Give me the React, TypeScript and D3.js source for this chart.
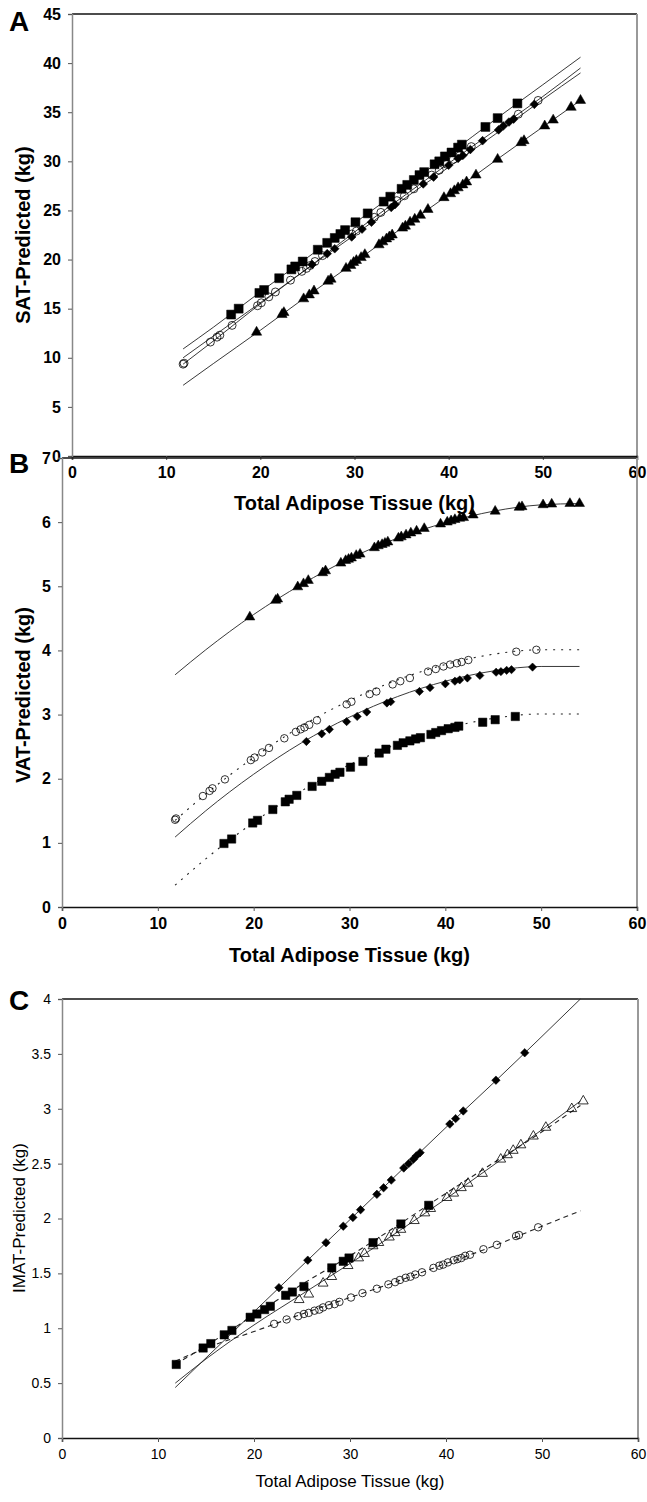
import React, { useEffect, useRef } from "react";
import * as d3 from "d3";

// total adipose tissue (kg) per group, shared by panels A and B
const sqX = [16.9, 17.7, 19.9, 20.4, 22.0, 23.3, 23.7, 24.5, 26.1, 27.1, 27.9, 28.5, 29.0, 30.1, 31.4, 33.1, 33.8, 35.0, 35.6, 36.3, 36.9, 37.4, 38.5, 39.0, 39.6, 40.3, 41.0, 41.4, 43.9, 45.2, 47.3];
const ciX = [11.8, 11.9, 14.7, 15.4, 15.7, 17.0, 19.7, 20.1, 20.9, 21.6, 23.2, 24.4, 24.9, 25.3, 25.8, 26.6, 29.7, 30.2, 32.1, 32.8, 34.5, 35.3, 36.3, 38.2, 39.0, 39.8, 40.5, 41.2, 41.7, 42.4, 47.4, 49.5];
const dmX = [25.5, 27.1, 27.9, 29.7, 30.8, 31.8, 33.9, 34.3, 37.3, 38.4, 40.0, 41.0, 41.5, 42.3, 43.6, 45.3, 45.8, 46.4, 46.9, 49.1];
const trX = [19.6, 22.3, 22.5, 24.6, 25.2, 25.7, 27.2, 27.5, 29.1, 29.6, 29.9, 30.2, 30.7, 31.1, 32.6, 33.0, 33.4, 33.7, 34.0, 35.1, 35.4, 35.9, 36.4, 37.0, 37.8, 39.5, 40.2, 40.6, 41.0, 41.5, 41.9, 42.9, 45.2, 47.7, 48.0, 50.2, 51.1, 53.0, 54.0];

// A: SAT predicted (kg)
const aSqY = [14.4, 15.0, 16.6, 16.9, 18.1, 19.0, 19.3, 19.8, 21.0, 21.7, 22.2, 22.6, 23.0, 23.8, 24.7, 25.9, 26.4, 27.2, 27.6, 28.1, 28.6, 28.9, 29.7, 30.0, 30.5, 30.9, 31.4, 31.7, 33.5, 34.4, 35.9];
const aCiY = [9.35, 9.45, 11.6, 12.1, 12.3, 13.3, 15.3, 15.6, 16.2, 16.7, 17.9, 18.8, 19.1, 19.4, 19.8, 20.4, 22.6, 22.9, 24.3, 24.8, 26.0, 26.5, 27.2, 28.6, 29.1, 29.7, 30.2, 30.6, 31.0, 31.5, 34.8, 36.2];
const aDmY = [19.5, 20.6, 21.1, 22.3, 23.1, 23.8, 25.3, 25.6, 27.7, 28.4, 29.6, 30.3, 30.6, 31.2, 32.1, 33.2, 33.6, 34.0, 34.3, 35.8];
const aTrY = [12.6, 14.4, 14.6, 16.0, 16.4, 16.8, 17.8, 18.0, 19.1, 19.4, 19.7, 19.9, 20.2, 20.5, 21.5, 21.8, 22.1, 22.3, 22.5, 23.2, 23.4, 23.8, 24.1, 24.5, 25.1, 26.3, 26.7, 27.0, 27.3, 27.6, 27.9, 28.6, 30.2, 31.9, 32.1, 33.6, 34.2, 35.5, 36.2];

// B: VAT predicted (kg)
const bSqY = [0.99, 1.06, 1.31, 1.35, 1.52, 1.64, 1.68, 1.74, 1.88, 1.96, 2.02, 2.07, 2.10, 2.18, 2.27, 2.40, 2.46, 2.52, 2.56, 2.59, 2.62, 2.64, 2.69, 2.72, 2.75, 2.78, 2.80, 2.82, 2.88, 2.92, 2.97];
const bCiY = [1.36, 1.38, 1.73, 1.81, 1.85, 1.99, 2.29, 2.33, 2.41, 2.48, 2.63, 2.73, 2.77, 2.80, 2.84, 2.91, 3.16, 3.20, 3.32, 3.36, 3.47, 3.52, 3.57, 3.67, 3.71, 3.75, 3.78, 3.80, 3.82, 3.85, 3.98, 4.01];
const bDmY = [2.58, 2.70, 2.77, 2.89, 2.97, 3.04, 3.18, 3.20, 3.36, 3.42, 3.48, 3.52, 3.54, 3.57, 3.61, 3.66, 3.67, 3.69, 3.70, 3.74];
const bTrY = [4.52, 4.78, 4.80, 4.99, 5.04, 5.09, 5.21, 5.24, 5.36, 5.40, 5.42, 5.44, 5.48, 5.50, 5.60, 5.63, 5.65, 5.67, 5.69, 5.75, 5.77, 5.80, 5.83, 5.86, 5.90, 5.97, 6.00, 6.02, 6.04, 6.06, 6.07, 6.11, 6.17, 6.23, 6.24, 6.27, 6.28, 6.29, 6.29];

// C: IMAT predicted (kg), own groups
const cDmX = [22.6, 25.6, 27.5, 29.3, 30.3, 31.1, 32.8, 33.5, 34.3, 35.6, 36.1, 36.6, 36.9, 37.3, 40.4, 41.0, 41.8, 45.2, 48.2];
const cDmY = [1.37, 1.62, 1.78, 1.93, 2.01, 2.08, 2.22, 2.28, 2.35, 2.46, 2.50, 2.54, 2.57, 2.60, 2.86, 2.91, 2.98, 3.26, 3.51];
const cSqX = [11.9, 14.7, 15.5, 16.9, 17.7, 19.6, 20.3, 21.1, 21.7, 23.3, 24.0, 25.2, 28.1, 29.3, 29.9, 32.4, 35.3, 38.2];
const cSqY = [0.67, 0.82, 0.86, 0.94, 0.98, 1.10, 1.13, 1.17, 1.20, 1.30, 1.33, 1.38, 1.55, 1.61, 1.64, 1.78, 1.95, 2.12];
const cTrX = [24.7, 25.7, 27.2, 28.1, 29.8, 30.9, 31.5, 32.4, 33.0, 34.1, 34.7, 35.3, 36.7, 37.8, 38.4, 40.1, 40.8, 41.6, 42.3, 43.8, 45.7, 46.4, 47.0, 47.8, 49.1, 50.4, 53.1, 54.3];
const cTrY = [1.26, 1.31, 1.41, 1.47, 1.57, 1.64, 1.68, 1.75, 1.78, 1.83, 1.87, 1.90, 1.98, 2.05, 2.09, 2.19, 2.23, 2.28, 2.32, 2.41, 2.54, 2.58, 2.62, 2.67, 2.75, 2.83, 3.00, 3.07];
const cCiX = [22.1, 23.4, 24.6, 25.2, 25.7, 26.3, 26.8, 27.2, 27.8, 28.4, 28.9, 30.1, 31.3, 32.8, 34.0, 34.7, 35.2, 35.8, 36.3, 36.8, 37.5, 38.7, 39.3, 39.7, 40.2, 40.8, 41.2, 41.6, 42.0, 42.5, 43.9, 45.3, 47.3, 47.6, 49.6];
const cCiY = [1.04, 1.08, 1.11, 1.13, 1.14, 1.16, 1.17, 1.19, 1.21, 1.22, 1.24, 1.28, 1.32, 1.36, 1.40, 1.42, 1.44, 1.46, 1.47, 1.49, 1.51, 1.55, 1.57, 1.58, 1.60, 1.62, 1.63, 1.64, 1.66, 1.67, 1.72, 1.76, 1.84, 1.85, 1.92];

// fitted curves, read at these x
const fitX = [11.8, 15, 20, 25, 30, 35, 40, 45, 50, 54];
const aSqFit = [10.9, 13.1, 16.7, 20.2, 23.7, 27.2, 30.7, 34.3, 37.8, 40.6];
const aCiFit = [9.35, 11.7, 15.5, 19.1, 22.8, 26.3, 29.8, 33.2, 36.6, 39.5];
const aDmFit = [10.0, 12.2, 15.6, 19.1, 22.5, 26.0, 29.4, 32.8, 36.3, 39.0];
const aTrFit = [7.2, 9.4, 12.8, 16.3, 19.7, 23.2, 26.6, 30.1, 33.5, 36.2];
const bSqFit = [0.34, 0.75, 1.32, 1.81, 2.22, 2.54, 2.78, 2.94, 3.01, 3.01];
const bCiFit = [1.35, 1.76, 2.33, 2.82, 3.22, 3.54, 3.78, 3.94, 4.01, 4.01];
const bDmFit = [1.09, 1.50, 2.07, 2.56, 2.96, 3.28, 3.52, 3.68, 3.75, 3.75];
const bTrFit = [3.62, 4.01, 4.56, 5.03, 5.43, 5.75, 5.99, 6.17, 6.27, 6.29];
const cDmFit = [0.46, 0.73, 1.15, 1.57, 1.99, 2.41, 2.83, 3.24, 3.66, 4.0];
const cSqFit = [0.67, 0.84, 1.12, 1.40, 1.66, 1.94, 2.23, 2.51, 2.79, 3.03];
const cTrFit = [0.50, 0.72, 1.03, 1.31, 1.59, 1.88, 2.18, 2.49, 2.81, 3.07];
const cCiFit = [0.70, 0.82, 0.97, 1.13, 1.28, 1.43, 1.59, 1.75, 1.93, 2.07];

const xTicks = [0, 10, 20, 30, 40, 50, 60];
const aYTicks = [0, 5, 10, 15, 20, 25, 30, 35, 40, 45];
const bYTicks = [0, 1, 2, 3, 4, 5, 6, 7];
const cYTicks = [0, 0.5, 1, 1.5, 2, 2.5, 3, 3.5, 4];

const FONT = "'Liberation Sans', Arial, Helvetica, sans-serif";

// marker areas per panel
const SIZES = {
  A: { square: 80, diamond: 38, triangle: 46, circle: 50 },
  B: { square: 70, diamond: 34, triangle: 44, circle: 44 },
  C: { square: 70, diamond: 36, triangle: 42, circle: 44 },
};

const App = () => {
  const svgRef = useRef<SVGSVGElement>(null);

  useEffect(() => {
    const svg = d3.select(svgRef.current);
    svg.selectAll("*").remove();

    const panels = [
      {
        letter: "A", letterY: 31, box: [72, 637, 14, 456], yMax: 45, yTicks: aYTicks, bold: true,
        yTitle: "SAT-Predicted (kg)", yTitleX: 23, yTitleY: 235, xTitleY: 510,
        series: [
          { x: trX, y: aTrY, fit: aTrFit, shape: "triangle", filled: true, dash: null },
          { x: dmX, y: aDmY, fit: aDmFit, shape: "diamond", filled: true, dash: null },
          { x: sqX, y: aSqY, fit: aSqFit, shape: "square", filled: true, dash: null },
          { x: ciX, y: aCiY, fit: aCiFit, shape: "circle", filled: false, dash: null },
        ],
      },
      {
        letter: "B", letterY: 473, box: [62, 637, 458, 907], yMax: 7, yTicks: bYTicks, bold: true,
        yTitle: "VAT-Predicted (kg)", yTitleX: 23, yTitleY: 695, xTitleY: 962,
        series: [
          { x: trX, y: bTrY, fit: bTrFit, shape: "triangle", filled: true, dash: null },
          { x: dmX, y: bDmY, fit: bDmFit, shape: "diamond", filled: true, dash: null },
          { x: sqX, y: bSqY, fit: bSqFit, shape: "square", filled: true, dash: "2,6" },
          { x: ciX, y: bCiY, fit: bCiFit, shape: "circle", filled: false, dash: "2,6" },
        ],
      },
      {
        letter: "C", letterY: 1010, box: [62, 638, 999, 1438], yMax: 4, yTicks: cYTicks, bold: false,
        yTitle: "IMAT-Predicted (kg)", yTitleX: 19, yTitleY: 1218, xTitleY: 1487,
        series: [
          { x: cDmX, y: cDmY, fit: cDmFit, shape: "diamond", filled: true, dash: null },
          { x: cTrX, y: cTrY, fit: cTrFit, shape: "triangle", filled: false, dash: null },
          { x: cSqX, y: cSqY, fit: cSqFit, shape: "square", filled: true, dash: "5,4" },
          { x: cCiX, y: cCiY, fit: cCiFit, shape: "circle", filled: false, dash: "5,4" },
        ],
      },
    ];

    const symbolFor = (shape, letter) => {
      const s = SIZES[letter][shape];
      if (shape === "square" || shape === "diamond") return d3.symbol(d3.symbolSquare, s)();
      if (shape === "triangle") return d3.symbol(d3.symbolTriangle, s)();
      return d3.symbol(d3.symbolCircle, s)();
    };

    panels.forEach((p) => {
      const [l, r, t, b] = p.box;
      const x = d3.scaleLinear().domain([0, 60]).range([l, r]);
      const y = d3.scaleLinear().domain([0, p.yMax]).range([b, t]);
      const g = svg.append("g");
      const tickSize = p.bold ? 16 : 14;
      const weight = p.bold ? "bold" : "normal";

      // frame
      g.append("line").attr("x1", l).attr("x2", r).attr("y1", t).attr("y2", t).attr("stroke", "#111").attr("stroke-width", 1.5);
      g.append("line").attr("x1", r).attr("x2", r).attr("y1", t).attr("y2", b).attr("stroke", "#999").attr("stroke-width", 2);

      // fits
      const line = d3.line<number>().x((d, i) => x(fitX[i])).y((d) => y(d)).curve(d3.curveMonotoneX);
      p.series.forEach((s) => {
        g.append("path").attr("d", line(s.fit)).attr("fill", "none").attr("stroke", "#222")
          .attr("stroke-width", s.dash ? 1.1 : 0.9).attr("stroke-dasharray", s.dash);
      });

      // markers
      p.series.forEach((s) => {
        const path = symbolFor(s.shape, p.letter);
        g.append("g").selectAll("path").data(s.x).enter().append("path")
          .attr("d", path)
          .attr("transform", (d, i) => `translate(${x(d)},${y(s.y[i])})${s.shape === "diamond" ? " rotate(45)" : ""}`)
          .attr("fill", s.filled ? "#000" : "none")
          .attr("stroke", "#000")
          .attr("stroke-width", s.filled ? 0.5 : 0.8);
      });

      // axes
      const ax = g.append("g").attr("transform", `translate(0,${b})`)
        .call(d3.axisBottom(x).tickValues(xTicks).tickSize(4).tickPadding(7).tickFormat((d) => String(d)));
      const ay = g.append("g").attr("transform", `translate(${l},0)`)
        .call(d3.axisLeft(y).tickValues(p.yTicks).tickSize(4).tickPadding(7).tickFormat((d) => String(d)));
      ax.select(".domain").attr("stroke", "#111").attr("stroke-width", 1.5);
      ay.select(".domain").attr("stroke", "#888").attr("stroke-width", 1.5);
      [ax, ay].forEach((a) => {
        a.selectAll("text").attr("font-family", FONT).attr("font-size", tickSize).attr("font-weight", weight).attr("fill", "#000");
        a.selectAll(".tick line").attr("stroke", "#555");
      });

      // titles
      g.append("text").attr("x", (l + r) / 2).attr("y", p.xTitleY).attr("text-anchor", "middle")
        .attr("font-family", FONT).attr("font-size", p.bold ? 20 : 17).attr("font-weight", weight)
        .text("Total Adipose Tissue (kg)");
      g.append("text").attr("transform", `translate(${p.yTitleX + (p.bold ? 7 : 6)},${p.yTitleY}) rotate(-90)`)
        .attr("text-anchor", "middle").attr("font-family", FONT).attr("font-size", p.bold ? 20 : 17)
        .attr("font-weight", weight).text(p.yTitle);
      g.append("text").attr("x", 9).attr("y", p.letterY).attr("font-family", FONT)
        .attr("font-size", 28).attr("font-weight", "bold").text(p.letter);
    });
  }, []);

  return (
    <div style={{ position: "absolute", left: 0, top: 0 }}>
      <svg ref={svgRef} width={647} height={1502} style={{ display: "block", background: "#fff" }} />
    </div>
  );
};

export default App;
